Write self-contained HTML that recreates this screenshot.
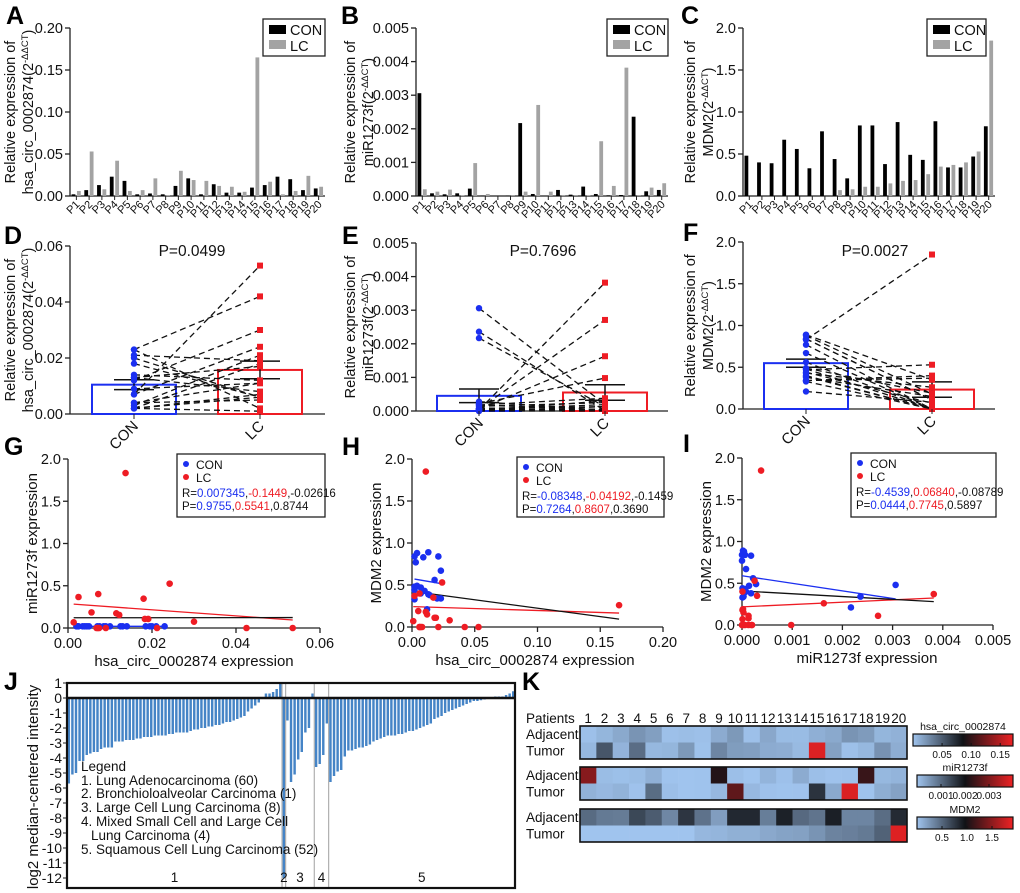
<!DOCTYPE html>
<html><head><meta charset="utf-8">
<style>
html,body{margin:0;padding:0;background:#fff;}
svg{display:block;font-family:"Liberation Sans",Arial,sans-serif;}
</style></head>
<body>
<svg id="fig" width="1020" height="893" viewBox="0 0 1020 893" xmlns="http://www.w3.org/2000/svg"></svg>
<script>
// ---------- data ----------
const patients = ["P1","P2","P3","P4","P5","P6","P7","P8","P9","P10","P11","P12","P13","P14","P15","P16","P17","P18","P19","P20"];
const circCON = [0.002,0.007,0.013,0.023,0.018,0.002,0.003,0.002,0.012,0.021,0.002,0.014,0.004,0.004,0.010,0.013,0.023,0.020,0.007,0.009];
const circLC  = [0.006,0.053,0.008,0.042,0.006,0.007,0.021,0.001,0.030,0.019,0.018,0.012,0.011,0.005,0.165,0.017,0.002,0.006,0.024,0.011];
const mirCON  = [0.00306,0.00008,0.00005,0.00008,0.00022,0.00001,0.0,0.00001,0.00217,0.00006,0.0,0.00018,0.00004,0.00028,0.00006,0.00002,0.00003,0.00236,0.00014,0.00018];
const mirLC   = [0.00020,0.00013,0.00019,0.00002,0.00098,0.00006,0.0,0.00001,0.00013,0.00271,0.00013,0.00003,0.00001,0.00002,0.00163,0.00030,0.00382,0.00001,0.00025,0.00038];
const mdmCON  = [0.48,0.40,0.39,0.67,0.56,0.33,0.77,0.44,0.21,0.84,0.84,0.38,0.88,0.49,0.43,0.89,0.34,0.34,0.47,0.83];
const mdmLC   = [0,0,0,0,0,0,0,0.07,0.08,0.11,0.11,0.15,0.18,0.19,0.26,0.35,0.37,0.40,0.53,1.85];
// panel G points
const gConX = [0.002,0.0025,0.0035,0.004,0.0045,0.005,0.007,0.0075,0.0085,0.009,0.010,0.0125,0.013,0.014,0.0185,0.0195,0.020,0.021,0.023,0.0023];
const gConY = [0.02,0.02,0.02,0.02,0.02,0.02,0.02,0.02,0.02,0.02,0.02,0.02,0.02,0.02,0.02,0.02,0.02,0.02,0.02,0.02];
const gLcX = [0.00135,0.0025,0.0072,0.0056,0.0068,0.0074,0.009,0.0115,0.0122,0.0137,0.018,0.0183,0.0191,0.0212,0.0242,0.030,0.0425,0.0535,0.0071];
const gLcY = [0.067,0.367,0.402,0.185,0,0,0,0.174,0.154,1.834,0.347,0.107,0.107,0,0.525,0.075,0,0,0];
// panel J groups
const jG1 = [-5.7,-5.1,-5.0,-4.2,-4.2,-3.8,-3.7,-3.6,-3.6,-3.4,-3.3,-3.3,-3.3,-2.9,-2.9,-2.9,-2.8,-2.8,-2.8,-2.7,-2.7,-2.6,-2.6,-2.6,-2.5,-2.5,-2.5,-2.5,-2.4,-2.4,-2.3,-2.3,-2.3,-2.3,-2.2,-2.1,-2.1,-2.0,-2.0,-1.9,-1.9,-1.8,-1.8,-1.7,-1.6,-1.6,-1.5,-1.4,-1.3,-1.2,-0.9,-0.7,-0.5,-0.3,0,0.3,0.3,0.4,0.6,1.0];
const jG2 = [-12];
const jG3 = [-1.5,-5.6,-5.1,-4.1,-3.6,-2.3,-2.0,0.3];
const jG4 = [-4.6,-4.4,-3.8,-1.7];
const jG5 = [-5.6,-5.2,-4.9,-4.8,-3.9,-3.5,-3.5,-3.4,-3.3,-3.3,-3.2,-3.1,-2.9,-2.8,-2.7,-2.6,-2.5,-2.5,-2.5,-2.4,-2.4,-2.3,-2.2,-2.2,-2.1,-2.0,-1.9,-1.8,-1.7,-1.4,-1.3,-1.2,-1.0,-0.9,-0.8,-0.7,-0.6,-0.5,-0.4,-0.3,-0.2,-0.2,-0.15,-0.1,-0.05,0,0.1,0.1,0.1,0.2,0.3,0.45];
const jTicks = [1,0,-1,-2,-3,-4,-5,-6,-7,-8,-9,-10,-11,-12];
const jLegend = ["Legend","1. Lung Adenocarcinoma (60)","2. Bronchioloalveolar Carcinoma (1)","3. Large Cell Lung Carcinoma (8)","4. Mixed Small Cell and Large Cell","   Lung Carcinoma (4)","5. Squamous Cell Lung Carcinoma (52)"];

// ---------- helpers ----------
const NS='http://www.w3.org/2000/svg';
const svg=document.getElementById('fig');
function mk(tag,attrs,parent){const e=document.createElementNS(NS,tag);for(const k in attrs)e.setAttribute(k,attrs[k]);(parent||svg).appendChild(e);return e;}
function nm(e,n){
  
  
  return e;
}
function txt(x,y,s,attrs,parent){const e=mk('text',Object.assign({x:x,y:y,'font-size':14,fill:'#111'},attrs||{}),parent);e.textContent=s;return e;}
function lin(d0,d1,r0,r1){return v=>r0+(v-d0)/(d1-d0)*(r1-r0);}
const BLUE='#1b2ff0', RED='#ee1c24';

function panelLetter(x,y,s){const t=txt(x,y,s,{'font-size':25,'font-weight':'bold',fill:'#000'});nm(t,'panel-label-'+s.toLowerCase());}

function yAxis(g,x0,yb,yt,max,ticks,labels,pfx){
  const sy=lin(0,max,yb,yt);
  const ax=mk('line',{x1:x0,y1:yt,x2:x0,y2:yb,stroke:'#222','stroke-width':1.3},g);
  nm(ax,pfx+'-y-axis');
  ticks.forEach((v,i)=>{
    const tk=mk('line',{x1:x0-5,x2:x0,y1:sy(v),y2:sy(v),stroke:'#222','stroke-width':1.3},g);
    nm(tk,pfx+'-y-tick');
    const t=txt(x0-7,sy(v)+5,labels[i],{'text-anchor':'end','font-size':14.5},g);
    nm(t,pfx+'-y-tick-label');
  });
  return sy;
}
function yTitle2(g,x,yc,l1,l2,pfx){
  const t1=txt(0,0,l1,{'text-anchor':'middle','font-size':14.5,transform:`translate(${x},${yc}) rotate(-90)`},g);
  nm(t1,pfx+'-y-axis-title');
  const t2=mk('text',{x:0,y:0,'text-anchor':'middle','font-size':14.5,fill:'#111',transform:`translate(${x+18},${yc}) rotate(-90)`},g);
  nm(t2,pfx+'-y-axis-title-2');
  const a=mk('tspan',{},t2);a.textContent=l2+'(2';
  const b=mk('tspan',{'baseline-shift':'super','font-size':9.5},t2);b.textContent='-ΔΔCT';
  const c=mk('tspan',{},t2);c.textContent=')';
}

// ---------- A-C grouped bar charts ----------
function barPanel(cfg){
  const g=mk('g',{});nm(g,cfg.name);
  const sy=yAxis(g,cfg.x0,cfg.yb,cfg.yt,cfg.max,cfg.ticks,cfg.labels,cfg.name);
  const xa=mk('line',{x1:cfg.x0,x2:cfg.x1,y1:cfg.yb,y2:cfg.yb,stroke:'#222','stroke-width':1.3},g);
  nm(xa,cfg.name+'-x-axis');
  const band=(cfg.x1-cfg.x0)/patients.length;
  patients.forEach((p,i)=>{
    const cx=cfg.x0+band*(i+0.5);
    const r1=mk('rect',{x:cx-4.8,y:sy(cfg.con[i]),width:3.8,height:cfg.yb-sy(cfg.con[i]),fill:'#000'},g);
    nm(r1,'bar-con-'+p.toLowerCase());
    const r2=mk('rect',{x:cx+0.6,y:sy(cfg.lc[i]),width:3.8,height:cfg.yb-sy(cfg.lc[i]),fill:'#a3a3a3'},g);
    nm(r2,'bar-lc-'+p.toLowerCase());
    const tk=mk('line',{x1:cx,x2:cx,y1:cfg.yb,y2:cfg.yb+4,stroke:'#222'},g);
    nm(tk,cfg.name+'-x-tick');
    const t=txt(0,0,p,{'text-anchor':'end','font-size':11,transform:`translate(${cx+4},${cfg.yb+9}) rotate(-45)`},g);
    nm(t,cfg.name+'-x-tick-label');
  });
  yTitle2(g,cfg.tx,(cfg.yb+cfg.yt)/2,'Relative expression of',cfg.t2,cfg.name);
  const lb=mk('rect',{x:cfg.lx,y:19,width:cfg.lw,height:37,fill:'#fff',stroke:'#222','stroke-width':1.3},g);
  nm(lb,cfg.name+'-legend');
  const s1=mk('rect',{x:cfg.lx+6,y:25,width:17,height:9,fill:'#000'},g);nm(s1,'legend-swatch-con');
  const l1=txt(cfg.lx+27,35,'CON',{'font-size':14.5},g);nm(l1,'legend-entry-con');
  const s2=mk('rect',{x:cfg.lx+6,y:40,width:17,height:9,fill:'#a3a3a3'},g);nm(s2,'legend-swatch-lc');
  const l2=txt(cfg.lx+27,51,'LC',{'font-size':14.5},g);nm(l2,'legend-entry-lc');
}
barPanel({name:'panel-a',x0:70,x1:325,yb:196,yt:28,max:0.2,ticks:[0,0.05,0.1,0.15,0.2],labels:['0.00','0.05','0.10','0.15','0.20'],con:circCON,lc:circLC,tx:15,t2:'hsa_circ_0002874',lx:263,lw:62});
barPanel({name:'panel-b',x0:416,x1:668,yb:196,yt:28,max:0.005,ticks:[0,0.001,0.002,0.003,0.004,0.005],labels:['0.000','0.001','0.002','0.003','0.004','0.005'],con:mirCON,lc:mirLC,tx:355,t2:'miR1273f',lx:607,lw:61});
barPanel({name:'panel-c',x0:743,x1:995,yb:196,yt:28,max:2.0,ticks:[0,0.5,1,1.5,2],labels:['0.0','0.5','1.0','1.5','2.0'],con:mdmCON,lc:mdmLC,tx:695,t2:'MDM2',lx:927,lw:59});
panelLetter(6,24,'A');panelLetter(341,24,'B');panelLetter(681,24,'C');

// ---------- D-F paired plots ----------
function stats(a){const m=a.reduce((s,v)=>s+v,0)/a.length;const sd=Math.sqrt(a.reduce((s,v)=>s+(v-m)*(v-m),0)/(a.length-1));return [m,sd/Math.sqrt(a.length)];}
function pairPanel(cfg){
  const g=mk('g',{});nm(g,cfg.name);
  const sy=yAxis(g,cfg.x0,cfg.yb,cfg.yt,cfg.max,cfg.ticks,cfg.labels,cfg.name);
  const xa=mk('line',{x1:cfg.x0,x2:cfg.x1,y1:cfg.yb,y2:cfg.yb,stroke:'#222','stroke-width':1.3},g);
  nm(xa,cfg.name+'-x-axis');
  const idx=cfg.con.map((v,i)=>i).filter(i=>cfg.con[i]<=cfg.max&&cfg.lc[i]<=cfg.max);
  const cs=stats(idx.map(i=>cfg.con[i])), ls=stats(idx.map(i=>cfg.lc[i]));
  const cx=cfg.cats;
  [[cs,BLUE,cx[0],'con'],[ls,RED,cx[1],'lc']].forEach(([s,col,x,k])=>{
    const r=mk('rect',{x:x-42,y:sy(s[0]),width:84,height:cfg.yb-sy(s[0]),fill:'none',stroke:col,'stroke-width':2},g);
    nm(r,'mean-bar-'+k);
  });
  idx.forEach(i=>{
    const l=mk('line',{x1:cx[0],y1:sy(cfg.con[i]),x2:cx[1],y2:sy(cfg.lc[i]),stroke:'#111','stroke-width':1.3,'stroke-dasharray':'6,4'},g);
    nm(l,'pair-line');
  });
  [[cs,cx[0],'con'],[ls,cx[1],'lc']].forEach(([s,x,k])=>{
    const e=mk('path',{d:`M${x-20},${sy(s[0]+s[1])}H${x+20}M${x-20},${sy(s[0]-s[1])}H${x+20}M${x},${sy(s[0]+s[1])}V${sy(s[0]-s[1])}`,stroke:'#111','stroke-width':1.5,fill:'none'},g);
    nm(e,'error-bar-'+k);
  });
  idx.forEach(i=>{
    const c=mk('circle',{cx:cx[0],cy:sy(cfg.con[i]),r:3.2,fill:BLUE},g);nm(c,'point-con');
    const q=mk('rect',{x:cx[1]-3,y:sy(cfg.lc[i])-3,width:6,height:6,fill:RED},g);nm(q,'point-lc');
  });
  ['CON','LC'].forEach((s,j)=>{
    const tk=mk('line',{x1:cx[j],x2:cx[j],y1:cfg.yb,y2:cfg.yb+5,stroke:'#222'},g);nm(tk,cfg.name+'-x-tick');
    const t=txt(0,0,s,{'text-anchor':'end','font-size':15,transform:`translate(${cx[j]+5},${cfg.yb+13}) rotate(-45)`},g);
    nm(t,cfg.name+'-x-tick-label');
  });
  const p=txt(cfg.px,256,cfg.p,{'text-anchor':'middle','font-size':15.5},g);nm(p,cfg.name+'-p-value');
  yTitle2(g,cfg.tx,(cfg.yb+cfg.yt)/2,'Relative expression of',cfg.t2,cfg.name);
}
pairPanel({name:'panel-d',x0:70,x1:325,yb:414,yt:246,max:0.06,ticks:[0,0.02,0.04,0.06],labels:['0.00','0.02','0.04','0.06'],con:circCON,lc:circLC,cats:[134,260],px:192,p:'P=0.0499',tx:15,t2:'hsa_circ_0002874'});
pairPanel({name:'panel-e',x0:416,x1:668,yb:411,yt:243,max:0.005,ticks:[0,0.001,0.002,0.003,0.004,0.005],labels:['0.000','0.001','0.002','0.003','0.004','0.005'],con:mirCON,lc:mirLC,cats:[479,605],px:543,p:'P=0.7696',tx:355,t2:'miR1273f'});
pairPanel({name:'panel-f',x0:743,x1:995,yb:409,yt:242,max:2.0,ticks:[0,0.5,1,1.5,2],labels:['0.0','0.5','1.0','1.5','2.0'],con:mdmCON,lc:mdmLC,cats:[806,932],px:875,p:'P=0.0027',tx:695,t2:'MDM2'});
panelLetter(4,244,'D');panelLetter(342,244,'E');panelLetter(683,241,'F');

// ---------- G-I scatter ----------
function fit(xs,ys){const n=xs.length;const mx=xs.reduce((a,b)=>a+b,0)/n,my=ys.reduce((a,b)=>a+b,0)/n;let sxy=0,sxx=0;for(let i=0;i<n;i++){sxy+=(xs[i]-mx)*(ys[i]-my);sxx+=(xs[i]-mx)*(xs[i]-mx);}const b=sxx?sxy/sxx:0;return [my-b*mx,b];}
function scatterPanel(cfg){
  const g=mk('g',{});nm(g,cfg.name);
  const sy=yAxis(g,cfg.x0,cfg.yb,cfg.yt,2.0,[0,0.5,1,1.5,2],['0.0','0.5','1.0','1.5','2.0'],cfg.name);
  const sx=lin(0,cfg.xmax,cfg.x0,cfg.x1);
  const xa=mk('line',{x1:cfg.x0,x2:cfg.x1,y1:cfg.yb,y2:cfg.yb,stroke:'#222','stroke-width':1.3},g);nm(xa,cfg.name+'-x-axis');
  cfg.xt.forEach((v,i)=>{
    const tk=mk('line',{x1:sx(v),x2:sx(v),y1:cfg.yb,y2:cfg.yb+5,stroke:'#222','stroke-width':1.3},g);nm(tk,cfg.name+'-x-tick');
    const t=txt(sx(v),cfg.yb+20,cfg.xl[i],{'text-anchor':'middle','font-size':14.5},g);nm(t,cfg.name+'-x-tick-label');
  });
  const xt=txt(cfg.xtc,cfg.yb+38,cfg.xtitle,{'text-anchor':'middle','font-size':15},g);nm(xt,cfg.name+'-x-axis-title');
  const yt=txt(0,0,cfg.ytitle,{'text-anchor':'middle','font-size':15,transform:`translate(${cfg.ytx},${(cfg.yb+cfg.yt)/2}) rotate(-90)`},g);nm(yt,cfg.name+'-y-axis-title');
  function fl(xs,ys,col,k){const [a,b]=fit(xs,ys);const x0=Math.min(...xs),x1=Math.max(...xs);
    const l=mk('line',{x1:sx(x0),y1:sy(a+b*x0),x2:sx(x1),y2:sy(a+b*x1),stroke:col,'stroke-width':1.3},g);nm(l,'regression-line-'+k);}
  fl(cfg.cx,cfg.cy,BLUE,'con');fl(cfg.lx,cfg.ly,RED,'lc');fl(cfg.cx.concat(cfg.lx),cfg.cy.concat(cfg.ly),'#111','all');
  cfg.cx.forEach((v,i)=>{const c=mk('circle',{cx:sx(v),cy:sy(cfg.cy[i]),r:3.3,fill:BLUE},g);nm(c,'point-con');});
  cfg.lx.forEach((v,i)=>{const c=mk('circle',{cx:sx(v),cy:sy(cfg.ly[i]),r:3.3,fill:RED},g);nm(c,'point-lc');});
  const b=cfg.box;
  const lb=mk('rect',{x:b[0],y:b[1],width:b[2],height:b[3],fill:'#fff',stroke:'#222','stroke-width':1.3},g);nm(lb,cfg.name+'-legend');
  const d1=mk('circle',{cx:b[0]+9,cy:b[1]+10,r:3,fill:BLUE},g);nm(d1,'legend-marker-con');
  const t1=txt(b[0]+19,b[1]+15,'CON',{'font-size':12},g);nm(t1,'legend-entry-con');
  const d2=mk('circle',{cx:b[0]+9,cy:b[1]+23,r:3,fill:RED},g);nm(d2,'legend-marker-lc');
  const t2=txt(b[0]+19,b[1]+28,'LC',{'font-size':12},g);nm(t2,'legend-entry-lc');
  [['R=',cfg.r,b[1]+43],['P=',cfg.p,b[1]+56]].forEach(([pre,v,y])=>{
    const t=mk('text',{x:b[0]+5,y:y,'font-size':11.5,fill:'#111'},g);nm(t,cfg.name+'-stat-'+pre[0].toLowerCase());
    const s0=mk('tspan',{},t);s0.textContent=pre;
    const s1=mk('tspan',{fill:BLUE},t);s1.textContent=v[0];
    const s2=mk('tspan',{},t);s2.textContent=',';
    const s3=mk('tspan',{fill:RED},t);s3.textContent=v[1];
    const s4=mk('tspan',{},t);s4.textContent=','+v[2];
  });
}
scatterPanel({name:'panel-g',x0:68,x1:320,yb:628,yt:459,xmax:0.06,xt:[0,0.02,0.04,0.06],xl:['0.00','0.02','0.04','0.06'],cx:gConX,cy:gConY,lx:gLcX,ly:gLcY,xtitle:'hsa_circ_0002874 expression',xtc:194,ytitle:'miR1273f expression',ytx:37,box:[177,454,148,63],r:['0.007345','-0.1449','-0.02616'],p:['0.9755','0.5541','0.8744']});
scatterPanel({name:'panel-h',x0:412,x1:663,yb:627,yt:459,xmax:0.2,xt:[0,0.05,0.1,0.15,0.2],xl:['0.00','0.05','0.10','0.15','0.20'],cx:circCON,cy:mdmCON,lx:circLC,ly:mdmLC,xtitle:'hsa_circ_0002874 expression',xtc:535,ytitle:'MDM2 expression',ytx:381,box:[517,457,147,60],r:['-0.08348','-0.04192','-0.1459'],p:['0.7264','0.8607','0.3690']});
scatterPanel({name:'panel-i',x0:742,x1:993,yb:625,yt:458,xmax:0.005,xt:[0,0.001,0.002,0.003,0.004,0.005],xl:['0.000','0.001','0.002','0.003','0.004','0.005'],cx:mirCON,cy:mdmCON,lx:mirLC,ly:mdmLC,xtitle:'miR1273f expression',xtc:867,ytitle:'MDM2 expression',ytx:711,box:[851,453,145,64],r:['-0.4539','0.06840','-0.08789'],p:['0.0444','0.7745','0.5897']});
panelLetter(4,455,'G');panelLetter(342,455,'H');panelLetter(683,452,'I');

// ---------- J ----------
(function(){
  const g=mk('g',{});nm(g,'panel-j');
  const groups=[jG1,jG2,jG3,jG4,jG5];
  const all=[].concat(...groups);
  const X0=67,X1=515,YT=683,YB=888;
  const sy=lin(0,-12,698,878);
  const s=(X1-X0)/all.length;
  jTicks.forEach(v=>{
    const tk=mk('line',{x1:X0-4,x2:X0,y1:sy(v),y2:sy(v),stroke:'#222'},g);nm(tk,'panel-j-y-tick');
    const t=txt(X0-5,sy(v)+5,String(v),{'text-anchor':'end','font-size':14},g);nm(t,'panel-j-y-tick-label');
  });
  const yt=txt(0,0,'log2 median-centered intensity',{'text-anchor':'middle','font-size':15,transform:'translate(38,787) rotate(-90)'},g);nm(yt,'panel-j-y-axis-title');
  let k=0;
  groups.forEach((gr,gi)=>{
    const start=k;
    gr.forEach(v=>{
      const y0=sy(0),y1=sy(v);
      const r=mk('rect',{x:X0+s*k+0.6,y:Math.min(y0,y1),width:s*0.68,height:Math.abs(y1-y0),fill:'#4584c6'},g);
      nm(r,'bar-group-'+(gi+1));
      k++;
    });
    if(gi<groups.length-1){const l=mk('line',{x1:X0+s*k,x2:X0+s*k,y1:YT,y2:YB,stroke:'#b0b0b0','stroke-width':1.2},g);nm(l,'group-separator');}
    const t=txt(X0+s*(start+k)/2,882,String(gi+1),{'text-anchor':'middle','font-size':13.5},g);nm(t,'group-label-'+(gi+1));
  });
  const box=mk('rect',{x:X0,y:YT,width:X1-X0,height:YB-YT,fill:'none',stroke:'#111','stroke-width':2.2},g);nm(box,'panel-j-frame');
  const z=mk('line',{x1:X0,x2:X1,y1:sy(0),y2:sy(0),stroke:'#111','stroke-width':2.5},g);nm(z,'zero-line');
  const ly=[771,785,798,812,826,840,854];
  jLegend.forEach((s2,i)=>{const t=txt(i===5?91:81,ly[i],s2.trim(),{'font-size':13.5},g);nm(t,'legend-entry');});
  panelLetter(4,690,'J');
})();

// ---------- K heatmap ----------
(function(){
  const g=mk('g',{});nm(g,'panel-k');
  panelLetter(522,690,'K');
  const LX=580,CW=16.35,RH=16.5;
  const c0=[160,196,238],cm=[16,18,22],c1=[238,34,36];
  function col(v,max){let t=Math.max(0,Math.min(1,v/max));let a,b,u;if(t<0.5){a=c0;b=cm;u=t/0.5;}else{a=cm;b=c1;u=(t-0.5)/0.5;}return 'rgb('+a.map((x,i)=>Math.round(x+(b[i]-x)*u)).join(',')+')';}
  const pt=txt(526,723,'Patients',{'font-size':13.5},g);nm(pt,'patients-label');
  patients.forEach((p,i)=>{const t=txt(LX+CW*(i+0.5),723,String(i+1),{'text-anchor':'middle','font-size':13.5},g);nm(t,'patient-number');});
  const blocks=[[726,circCON,circLC,0.172,'hsa_circ_0002874',[0.05,0.10,0.15],['0.05','0.10','0.15'],913],
                [767,mirCON,mirLC,0.004,'miR1273f',[0.001,0.002,0.003],['0.001','0.002','0.003'],917],
                [809,mdmCON,mdmLC,1.92,'MDM2',[0.5,1.0,1.5],['0.5','1.0','1.5'],917]];
  blocks.forEach((b,bi)=>{
    const [y,con,lc,max,title,tv,tl,cbx]=b;
    [con,lc].forEach((arr,r)=>{
      arr.forEach((v,i)=>{const c=mk('rect',{x:LX+CW*i,y:y+RH*r,width:CW+0.3,height:RH+0.3,fill:col(v,max)},g);nm(c,'heatmap-cell');});
      const lab=txt(526,y+RH*r+13,r?'Tumor':'Adjacent',{'font-size':13.5},g);nm(lab,r?'row-label-tumor':'row-label-adjacent');
    });
    const fr=mk('rect',{x:LX,y:y,width:CW*20,height:RH*2,fill:'none',stroke:'#111','stroke-width':1.6},g);nm(fr,'heatmap-block-frame');
    const gid='cb'+bi;
    const lg=mk('linearGradient',{id:gid,x1:0,x2:1,y1:0,y2:0},g);
    [[0,c0],[0.5,cm],[1,c1]].forEach(([o,c])=>mk('stop',{offset:o,'stop-color':'rgb('+c.join(',')+')'},lg));
    const cy=y+8,cw=1013-cbx;
    const tt=txt((cbx+1013)/2,cy-4,title,{'text-anchor':'middle','font-size':10.5},g);nm(tt,'colorbar-title');
    const cb=mk('rect',{x:cbx,y:cy,width:cw,height:12,fill:`url(#${gid})`,stroke:'#111','stroke-width':1.2},g);nm(cb,'colorbar');
    tv.forEach((v,i)=>{const x=cbx+v/max*cw;
      const tk=mk('line',{x1:x,x2:x,y1:cy+12,y2:cy+9,stroke:'#111'},g);nm(tk,'colorbar-tick');
      const t=txt(x,cy+24,tl[i],{'text-anchor':'middle','font-size':10},g);nm(t,'colorbar-tick-label');});
  });
})();
</script>
</body></html>
